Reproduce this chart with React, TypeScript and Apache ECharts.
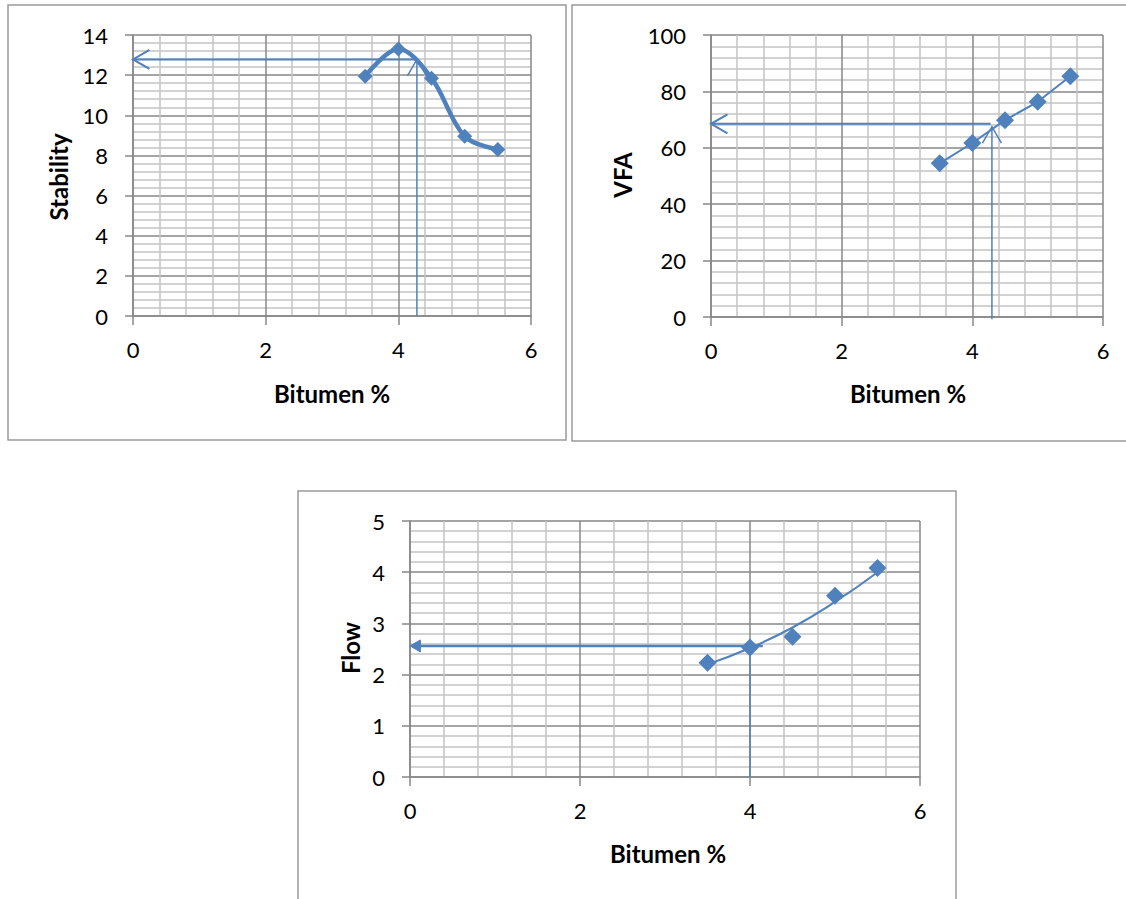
import React, { useEffect, useRef } from "react";
import * as echarts from "echarts";

// ---------- data ----------
const BITUMEN = [3.5, 4.0, 4.5, 5.0, 5.5];
const STABILITY = [11.95, 13.3, 11.85, 8.95, 8.3];
const VFA = [54.5, 61.7, 69.8, 76.3, 85.4];
const FLOW = [2.23, 2.53, 2.74, 3.54, 4.08];
const FLOW_TREND = [2.2, 2.52, 2.92, 3.42, 4.0];

// design read-offs (x = bitumen %, y = property value)
const STAB_TARGET = [4.28, 12.78];
const VFA_TARGET_H = [4.28, 68.5];
const VFA_TARGET_V = [4.3, 67.5];
const FLOW_TARGET_H = [4.15, 2.56];
const FLOW_TARGET_V = [4.0, 2.56];

const X_TITLE = "Bitumen %";
const Y_TITLES = ["Stability", "VFA", "Flow"];

const BLUE = "#4F81BD";
const MAJOR = "#878787";
const MINOR = "#C3C3C3";
const FONT = "Lato";

function pairs(xs: number[], ys: number[]) {
  return xs.map((x, i) => [x, ys[i]]);
}

function guideRenderer(head: number, width: number) {
  return (params: any, api: any) => {
    const p0 = api.coord([api.value(0), api.value(1)]);
    const p1 = api.coord([api.value(2), api.value(3)]);
    const dx = p1[0] - p0[0];
    const dy = p1[1] - p0[1];
    const len = Math.hypot(dx, dy) || 1;
    const ux = dx / len;
    const uy = dy / len;
    const L = head === 2 ? 12 : 19;
    const a = Math.PI / 6;
    const arm = (s: number) => [
      p1[0] - L * (ux * Math.cos(a) - s * uy * Math.sin(a)),
      p1[1] - L * (uy * Math.cos(a) + s * ux * Math.sin(a)),
    ];
    const end = head === 2 ? [p1[0] - ux * L * 0.8, p1[1] - uy * L * 0.8] : p1;
    const children: any[] = [
      {
        type: "line",
        shape: { x1: p0[0], y1: p0[1], x2: end[0], y2: end[1] },
        style: { stroke: BLUE, lineWidth: width },
      },
    ];
    if (head === 1) {
      children.push({
        type: "polyline",
        shape: { points: [arm(1), p1, arm(-1)] },
        style: { stroke: BLUE, lineWidth: width, fill: null },
      });
    } else if (head === 2) {
      children.push({
        type: "polygon",
        shape: { points: [arm(1), p1, arm(-1)] },
        style: { fill: BLUE, stroke: BLUE, lineWidth: 1 },
      });
    }
    return { type: "group", children };
  };
}

function guide(idx: number, from: number[], to: number[], head: number, width: number) {
  return {
    type: "custom",
    xAxisIndex: idx,
    yAxisIndex: idx,
    clip: false,
    z: 3,
    encode: { x: [0, 2], y: [1, 3] },
    data: [[from[0], from[1], to[0], to[1]]],
    renderItem: guideRenderer(head, width),
    silent: true,
  };
}

function xAxisCfg(gridIndex: number) {
  return {
    type: "value",
    gridIndex,
    min: 0,
    max: 6,
    interval: 2,
    axisLine: { show: true, onZero: false, lineStyle: { color: MAJOR, width: 1.5 } },
    axisTick: { show: true, length: 9, lineStyle: { color: MAJOR, width: 1.5 } },
    axisLabel: { margin: 22, color: "#000", fontSize: 22, fontFamily: FONT },
    splitLine: { show: true, lineStyle: { color: MAJOR, width: 1.5 } },
    minorTick: { show: false, splitNumber: 5 },
    minorSplitLine: { show: true, lineStyle: { color: MINOR, width: 1.5 } },
  };
}

function yAxisCfg(gridIndex: number, max: number, interval: number) {
  return {
    type: "value",
    gridIndex,
    min: 0,
    max,
    interval,
    axisLine: { show: true, onZero: false, lineStyle: { color: MAJOR, width: 1.5 } },
    axisTick: { show: true, length: 8, lineStyle: { color: MAJOR, width: 1.5 } },
    axisLabel: { margin: 25, color: "#000", fontSize: 22, fontFamily: FONT },
    splitLine: { show: true, lineStyle: { color: MAJOR, width: 1.5 } },
    minorTick: { show: false, splitNumber: 5 },
    minorSplitLine: { show: true, lineStyle: { color: MINOR, width: 1.5 } },
  };
}

const titleStyle = { fill: "#000", fontSize: 24, fontWeight: "bold", fontFamily: FONT, align: "center", verticalAlign: "middle" };

export default function App() {
  const ref = useRef<HTMLDivElement>(null);
  useEffect(() => {
    if (!ref.current) return;
    const chart = echarts.init(ref.current, null, { renderer: "svg" });
    chart.setOption({
      animation: false,
      backgroundColor: "#fff",
      grid: [
        { left: 133, top: 35, width: 398, height: 281 },
        { left: 711, top: 35, width: 392, height: 282 },
        { left: 410, top: 521, width: 510, height: 256 },
      ],
      xAxis: [xAxisCfg(0), xAxisCfg(1), xAxisCfg(2)],
      yAxis: [yAxisCfg(0, 14, 2), yAxisCfg(1, 100, 20), yAxisCfg(2, 5, 1)],
      graphic: [
        { type: "rect", z: -1, shape: { x: 8, y: 5, width: 558, height: 435 }, style: { fill: "none", stroke: "#9A9A9A", lineWidth: 1.5 } },
        { type: "rect", z: -1, shape: { x: 572, y: 5, width: 570, height: 436 }, style: { fill: "none", stroke: "#9A9A9A", lineWidth: 1.5 } },
        { type: "rect", z: -1, shape: { x: 298, y: 491, width: 658, height: 430 }, style: { fill: "none", stroke: "#9A9A9A", lineWidth: 1.5 } },
        { type: "text", x: 332, y: 393, style: { ...titleStyle, text: X_TITLE } },
        { type: "text", x: 908, y: 393, style: { ...titleStyle, text: X_TITLE } },
        { type: "text", x: 668, y: 853, style: { ...titleStyle, text: X_TITLE } },
        { type: "text", x: 58, y: 177, rotation: Math.PI / 2, style: { ...titleStyle, text: Y_TITLES[0] } },
        { type: "text", x: 622, y: 175, rotation: Math.PI / 2, style: { ...titleStyle, text: Y_TITLES[1] } },
        { type: "text", x: 350, y: 648, rotation: Math.PI / 2, style: { ...titleStyle, text: Y_TITLES[2] } },
      ],
      series: [
        guide(0, [STAB_TARGET[0], STAB_TARGET[1]], [0, STAB_TARGET[1]], 1, 2),
        guide(0, [STAB_TARGET[0], 0], [STAB_TARGET[0], STAB_TARGET[1]], 1, 1.5),
        {
          type: "line",
          xAxisIndex: 0,
          yAxisIndex: 0,
          z: 4,
          data: pairs(BITUMEN, STABILITY),
          smooth: 0.35,
          symbol: "diamond",
          symbolSize: 15,
          showAllSymbol: true,
          lineStyle: { color: BLUE, width: 4.5 },
          itemStyle: { color: BLUE },
        },
        guide(1, [VFA_TARGET_H[0], VFA_TARGET_H[1]], [0, VFA_TARGET_H[1]], 1, 2),
        guide(1, [VFA_TARGET_V[0], -0.8], [VFA_TARGET_V[0], VFA_TARGET_V[1]], 1, 1.5),
        {
          type: "line",
          xAxisIndex: 1,
          yAxisIndex: 1,
          z: 4,
          data: pairs(BITUMEN, VFA),
          symbol: "diamond",
          symbolSize: 18,
          lineStyle: { color: BLUE, width: 2 },
          itemStyle: { color: BLUE },
        },
        guide(2, [FLOW_TARGET_H[0], FLOW_TARGET_H[1]], [0, FLOW_TARGET_H[1]], 2, 2.5),
        guide(2, [FLOW_TARGET_V[0], 0], [FLOW_TARGET_V[0], FLOW_TARGET_V[1]], 0, 1.5),
        {
          type: "line",
          xAxisIndex: 2,
          yAxisIndex: 2,
          z: 4,
          data: pairs(BITUMEN, FLOW_TREND),
          smooth: true,
          showSymbol: false,
          symbol: "none",
          lineStyle: { color: BLUE, width: 2 },
        },
        {
          type: "scatter",
          xAxisIndex: 2,
          yAxisIndex: 2,
          z: 5,
          data: pairs(BITUMEN, FLOW),
          symbol: "diamond",
          symbolSize: 18,
          itemStyle: { color: BLUE, opacity: 1 },
        },
      ],
    });
    return () => chart.dispose();
  }, []);
  return (
    <div
      ref={ref}
      style={{ position: "absolute", left: 0, top: 0, width: 1126, height: 899, background: "#fff" }}
    />
  );
}
